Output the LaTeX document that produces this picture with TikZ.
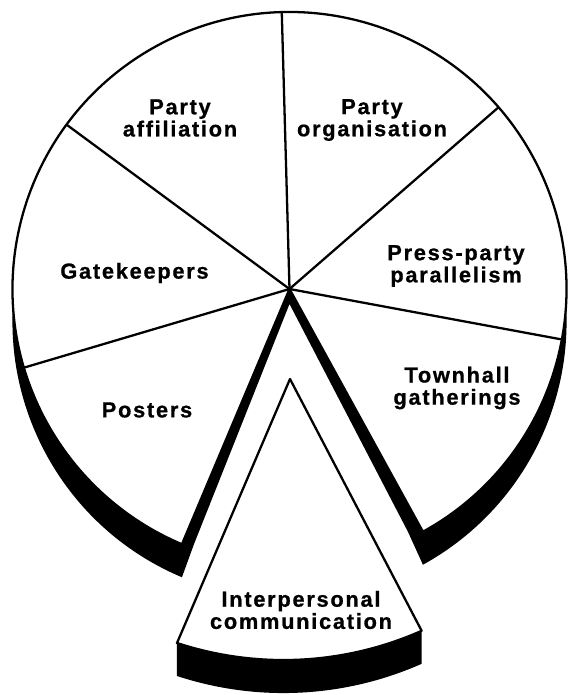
\documentclass[tikz,border=0pt]{standalone}
\usepackage{fontspec}
\usepackage{xcolor}
\usepackage{tikz}
\usetikzlibrary{calc}
\newfontfamily\slicefont{Liberation Sans}[LetterSpace=8,BoldFeatures={FakeBold=0.8}]
\definecolor{PieInk}{HTML}{000000}
\definecolor{PiePaper}{HTML}{FFFFFF}

\begin{document}
\begin{tikzpicture}[x=1cm,y=1cm,
  slicelabel/.style={font=\slicefont\bfseries\fontsize{12.4}{12.6}\selectfont,align=center,inner sep=0pt},
  rim/.style={draw=PieInk,line width=1.3pt,line join=round}]
\path[use as bounding box] (0,0) rectangle (11.40,13.90);
\fill[PiePaper] (0,0) rectangle (11.40,13.90);
\coordinate (hub) at (5.79,8.12);
\coordinate (postersEnd) at ($(hub)+(247.15:5.54)$);
\coordinate (townhallEnd) at ($(hub)+(-61.2:5.54)$);
\coordinate (apex) at (5.80,6.32);
\coordinate (wedgeLeft) at (3.54,1.04);
% shadow of the main pie
\fill[PieInk] ($(hub)+(0,-0.30)$) -- ($(postersEnd)+(0.24,0)$) -- ($(postersEnd)+(0,-0.66)$)
  arc[start angle=247.15,end angle=-61.2,radius=5.54] -- ($(townhallEnd)+(-0.30,0)$) -- cycle;
% main pie
\filldraw[rim,fill=PiePaper] (hub) -- (townhallEnd) arc[start angle=-61.2,end angle=247.15,radius=5.54] -- cycle;
\draw[rim] (hub) -- ($(hub)+(91.6:5.54)$);
\draw[rim] (hub) -- ($(hub)+(143.6:5.54)$);
\draw[rim] (hub) -- ($(hub)+(41.0:5.54)$);
\draw[rim] (hub) -- ($(hub)+(-10.5:5.54)$);
\draw[rim] (hub) -- ($(hub)+(196.5:5.54)$);
% pulled-out slice
\fill[PieInk] (wedgeLeft) -- ++(0,-0.66) arc[start angle=251.8,end angle=293.9,radius=6.82] -- ++(0,0.66) -- cycle;
\filldraw[rim,fill=PiePaper] (apex) -- (wedgeLeft) arc[start angle=251.8,end angle=293.9,radius=6.82] -- cycle;
% labels
\node[slicelabel] (affiliation) at (3.60,11.54) {Party\\affiliation};
\node[slicelabel] (organisation) at (7.44,11.50) {Party\\organisation};
\node[slicelabel] (parallelism) at (9.12,8.58) {Press-party\\parallelism};
\node[slicelabel] (gatekeepers) at (2.69,8.44) {Gatekeepers};
\node[slicelabel] (posters) at (2.94,5.70) {Posters};
\node[slicelabel] (townhall) at (9.14,6.14) {Townhall\\gatherings};
\node[slicelabel] (interpersonal) at (6.02,1.70) {Interpersonal\\communication};
\end{tikzpicture}
\end{document}
